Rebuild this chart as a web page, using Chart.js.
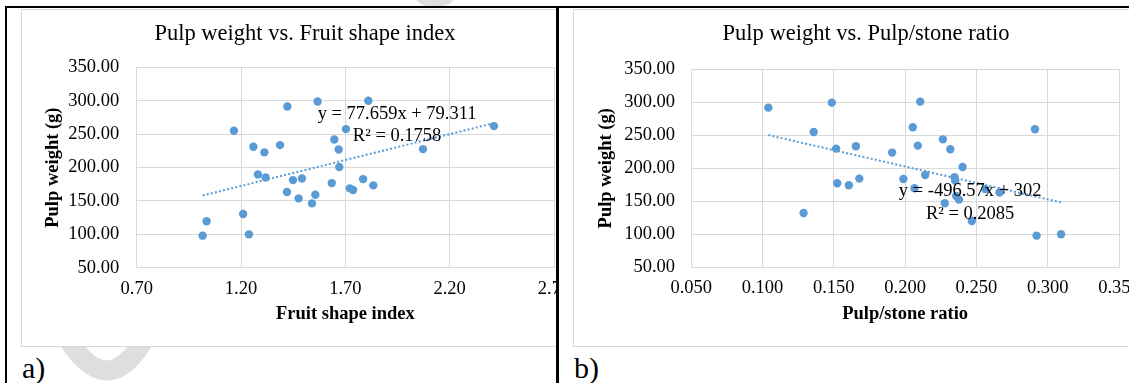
<!DOCTYPE html>
<html>
<head>
<meta charset="utf-8">
<script src="https://cdn.jsdelivr.net/npm/chart.js@4.4.1/dist/chart.umd.min.js"></script>
<style>
  html, body { margin: 0; padding: 0; background: #fff; }
  body { width: 1129px; height: 383px; position: relative; overflow: hidden; font-family: "Liberation Serif", serif; }
  .clip { position: absolute; top: 8px; height: 375px; overflow: hidden; }
  .area { position: absolute; top: 1px; left: 14px; width: 620px; height: 336px; background: #fff; border: 1px solid #d9d9d9; }
  .area canvas { position: absolute; left: 0; top: 0; }
  .rule { position: absolute; background: #000; }
  .title { position: absolute; width: 400px; text-align: center; font-size: 22.5px; line-height: 22.5px; color: #000; white-space: nowrap; }
  .tag { position: absolute; font-size: 30px; line-height: 30px; color: #000; }
</style>
</head>
<body>
<svg width="1129" height="383" style="position:absolute;left:0;top:0">
  <path d="M60 326 Q108 414 150 328" fill="none" stroke="#dedede" stroke-width="20"/>
  <ellipse cx="435" cy="-1" rx="18" ry="8" fill="#dedede"/>
</svg>

<div class="clip" style="left:7px;width:549px">
  <div class="area"><canvas id="chart-a" width="566" height="336"></canvas></div>
</div>
<div class="clip" style="left:559px;width:570px">
  <div class="area"><canvas id="chart-b" width="590" height="336"></canvas></div>
</div>

<div class="rule" style="left:5px;top:6px;width:1124px;height:2px"></div>
<div class="rule" style="left:5px;top:6px;width:2px;height:377px"></div>
<div class="rule" style="left:556px;top:6px;width:3px;height:377px"></div>

<div class="title" style="left:105px;top:22px">Pulp weight vs. Fruit shape index</div>
<div class="title" style="left:666px;top:22px">Pulp weight vs. Pulp/stone ratio</div>
<div class="tag" style="left:22px;top:353px">a)</div>
<div class="tag" style="left:574px;top:353px">b)</div>

<script>
// panel a: pulp weight vs fruit shape index
const shapeIndex = [1.016, 1.035, 1.166, 1.210, 1.238, 1.259, 1.312, 1.281, 1.318, 1.387,
  1.422, 1.567, 1.420, 1.449, 1.492, 1.476, 1.556, 1.540, 1.635, 1.647,
  1.668, 1.671, 1.703, 1.721, 1.737, 1.785, 1.810, 1.834, 2.072, 2.412];
const pulpWeightA = [98.0, 119.5, 255.2, 130.4, 100.0, 231.2, 222.8, 189.8, 185.3, 233.7,
  291.6, 299.1, 163.4, 181.3, 183.8, 153.9, 159.4, 146.4, 176.8, 242.2,
  227.2, 200.8, 257.7, 168.9, 166.4, 182.8, 300.1, 173.4, 227.7, 262.2];
const shapeTicks = [0.70, 1.20, 1.70, 2.20, 2.70];
const trendA = { slope: 77.659, intercept: 79.311, r2: "0.1758" };

// panel b: pulp weight vs pulp/stone ratio
const pulpStoneRatio = [0.1041, 0.1486, 0.1359, 0.1516, 0.1655, 0.1909, 0.1524, 0.1606, 0.1679, 0.1288,
  0.1988, 0.2106, 0.2054, 0.2089, 0.2265, 0.2317, 0.2403, 0.2141, 0.2347, 0.2352,
  0.2358, 0.2066, 0.2278, 0.2378, 0.2468, 0.2562, 0.2662, 0.2911, 0.2922, 0.3094];
const pulpWeightB = [291.9, 299.5, 255.1, 229.8, 233.3, 223.8, 177.3, 174.3, 184.4, 132.3,
  183.9, 301.0, 262.1, 234.4, 243.9, 228.8, 202.0, 189.9, 186.4, 181.0,
  158.0, 169.7, 147.0, 152.5, 120.2, 168.5, 163.4, 259.1, 98.0, 100.0];
const ratioTicks = [0.050, 0.100, 0.150, 0.200, 0.250, 0.300, 0.350];
const trendB = { slope: -496.57, intercept: 302, r2: "0.2085" };

const weightTicks = [50, 100, 150, 200, 250, 300, 350];

const BLUE = "#5b9bd5";
const GRID = "#d9d9d9";

Chart.defaults.font.family = '"Liberation Serif", serif';
Chart.defaults.color = "#000";

// equation + R² next to the trendline
const trendLabel = {
  id: "trendLabel",
  afterDatasetsDraw(chart, args, opts) {
    const { ctx, scales } = chart;
    const px = scales.x.getPixelForValue(opts.at[0]);
    const py = scales.y.getPixelForValue(opts.at[1]);
    ctx.save();
    ctx.font = '18.5px "Liberation Serif"';
    ctx.fillStyle = "#000";
    ctx.textAlign = "center";
    ctx.textBaseline = "alphabetic";
    opts.lines.forEach((t, i) => ctx.fillText(t, px, py + i * opts.gap));
    ctx.restore();
  }
};

function fmtEq(tr) {
  const sign = tr.intercept < 0 ? " - " : " + ";
  return "y = " + tr.slope + "x" + sign + Math.abs(tr.intercept);
}

function makeChart(id, p) {
  const xs = p.x, ys = p.y;
  const pts = xs.map((v, i) => ({ x: v, y: ys[i] }));
  const x0 = Math.min(...xs), x1 = Math.max(...xs);
  const line = [x0, x1].map(v => ({ x: v, y: p.trend.slope * v + p.trend.intercept }));

  return new Chart(document.getElementById(id), {
    type: "scatter",
    data: {
      datasets: [{
        data: pts,
        backgroundColor: BLUE,
        borderWidth: 0,
        pointRadius: 4.2,
        pointHoverRadius: 4.2,
        order: 1
      }, {
        type: "line",
        data: line,
        borderColor: BLUE,
        borderWidth: 2,
        borderDash: [2, 2.2],
        pointRadius: 0,
        fill: false,
        order: 2
      }]
    },
    plugins: [trendLabel],
    options: {
      responsive: false,
      animation: false,
      events: [],
      layout: { padding: p.pad },
      plugins: {
        legend: { display: false },
        tooltip: { enabled: false },
        trendLabel: { at: p.labelAt, gap: p.labelGap, lines: [fmtEq(p.trend), "R\u00b2 = " + p.trend.r2] }
      },
      scales: {
        x: {
          type: "linear",
          min: p.xTicks[0],
          max: p.xTicks[p.xTicks.length - 1],
          afterBuildTicks: s => { s.ticks = p.xTicks.map(v => ({ value: v })); },
          afterFit: s => { s.height = p.xHeight; },
          grid: { color: GRID, lineWidth: 1, drawTicks: false },
          border: { color: GRID },
          ticks: {
            autoSkip: false, maxRotation: 0, padding: 10,
            font: { size: 18.5 }, color: "#000",
            callback: v => Number(v).toFixed(p.xDec)
          },
          title: {
            display: true, text: p.xTitle, color: "#000",
            font: { size: 18.5, weight: "bold" },
            padding: { top: 0, bottom: 20.5 }
          }
        },
        y: {
          type: "linear",
          min: weightTicks[0],
          max: weightTicks[weightTicks.length - 1],
          afterBuildTicks: s => { s.ticks = weightTicks.map(v => ({ value: v })); },
          afterFit: s => { s.width = p.yWidth; },
          grid: { color: GRID, lineWidth: 1, drawTicks: false },
          border: { color: GRID },
          ticks: {
            padding: p.yTickPad,
            font: { size: 18.5 }, color: "#000",
            callback: v => Number(v).toFixed(2)
          },
          title: {
            display: true, text: "Pulp weight (g)", color: "#000",
            font: { size: 18.5, weight: "bold" },
            padding: { top: p.yTitlePad, bottom: 0 }
          }
        }
      }
    }
  });
}

makeChart("chart-a", {
  x: shapeIndex, y: pulpWeightA, trend: trendA,
  xTicks: shapeTicks, xDec: 2, xTitle: "Fruit shape index",
  pad: { top: 57.5, right: 34, bottom: 0, left: 0 },
  yWidth: 114.7, xHeight: 78.3, yTickPad: 17.5, yTitlePad: 20,
  labelAt: [1.948, 272.4], labelGap: 21.5
});

makeChart("chart-b", {
  x: pulpStoneRatio, y: pulpWeightB, trend: trendB,
  xTicks: ratioTicks, xDec: 3, xTitle: "Pulp/stone ratio",
  pad: { top: 59.3, right: 45, bottom: 0, left: 0 },
  yWidth: 117.2, xHeight: 78.7, yTickPad: 16.2, yTitlePad: 21,
  labelAt: [0.2456, 157.3], labelGap: 23
});
</script>
</body>
</html>
